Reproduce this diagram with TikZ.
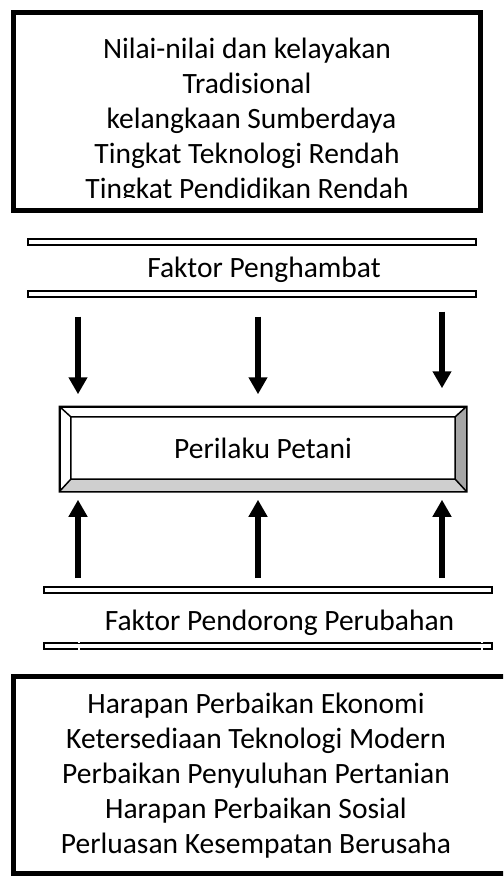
\documentclass[tikz,border=0pt]{standalone}
\usepackage{fontspec}
\setmainfont{Carlito}
\usetikzlibrary{arrows.meta,positioning}

\begin{document}
\begin{tikzpicture}[x=1pt,y=-1pt,
                    bigbox/.style={draw,line width=5pt,inner sep=0pt},
                    bar/.style={draw,line width=2pt,fill=white,inner sep=0pt,
                                minimum width=448pt,minimum height=6pt},
                    push/.style={-{Triangle[width=18pt,length=17pt]},line width=6pt},
                    txt/.style={inner sep=0pt,align=center,
                                font=\fontsize{29.5}{35}\selectfont}]
  \useasboundingbox (0,0) rectangle (503,893);
  \clip (0,0) rectangle (503,893);

  % hambatan
  \node[bigbox,minimum width=467pt,minimum height=198pt] (hb) at (247,111.5) {};
  \begin{scope}
    \clip (14,14) rectangle (480,198);
    \node[txt] (hbt) at (247,121) {Nilai-nilai dan kelayakan\\
      Tradisional\\
      \hspace*{0.3em}kelangkaan Sumberdaya\\
      Tingkat Teknologi Rendah\\
      Tingkat Pendidikan Rendah};
  \end{scope}

  \node[bar] (b1) at (252,242) {};
  \node[txt] (fh) at (264,270) {Faktor Penghambat};
  \node[bar] (b2) at (252,293.5) {};

  % petani
  \node[draw,line width=1.5pt,minimum width=406pt,minimum height=84pt] (pl) at (263,449) {};
  \node[minimum width=384pt,minimum height=62pt,inner sep=0pt] (pi) at (263,448) {};
  \fill[black!35] (pl.north east) -- (pl.south east) -- (pi.south east) -- (pi.north east) -- cycle;
  \fill[black!19] (pl.south west) -- (pl.south east) -- (pi.south east) -- (pi.south west) -- cycle;
  \draw[line width=1.5pt] (pl.north west) rectangle (pl.south east)
    (pi.north west) rectangle (pi.south east)
    (pl.north west) -- (pi.north west) (pl.north east) -- (pi.north east)
    (pl.south west) -- (pi.south west) (pl.south east) -- (pi.south east);
  \node[txt] (plt) at (pi.center) {Perilaku Petani};

  \node[bar] (b3) at (268,590) {};
  \node[txt] (fd) at (279.5,623) {Faktor Pendorong Perubahan};
  \node[bar] (b4) at (268,645.5) {};
  \foreach \gx in {79,482}
    \draw[white,line width=1.5pt] (\gx,641.5) -- (\gx,643) (\gx,648) -- (\gx,649.5);

  % pendorong
  \node[bigbox,minimum width=496.5pt,minimum height=197pt] (dr) at (261.75,775) {};
  \node[txt] (drt) at (256,775.5) {Harapan Perbaikan Ekonomi\\
    Ketersediaan Teknologi Modern\\
    Perbaikan Penyuluhan Pertanian\\
    Harapan Perbaikan Sosial\\
    Perluasan Kesempatan Berusaha};

  % panah
  \coordinate (c1) at (78,0);
  \coordinate (c2) at (258,0);
  \coordinate (c3) at (442,0);
  \draw[push,shorten <=19pt,shorten >=12pt] (c1 |- b2.south) -- (c1 |- pl.north);
  \draw[push,shorten <=19pt,shorten >=12pt] (c2 |- b2.south) -- (c2 |- pl.north);
  \draw[push,shorten <=14pt,shorten >=18pt] (c3 |- b2.south) -- (c3 |- pl.north);
  \foreach \c in {c1,c2,c3}
    \draw[push,shorten <=8pt,shorten >=8pt] (\c |- b3.north) -- (\c |- pl.south);
\end{tikzpicture}
\end{document}
